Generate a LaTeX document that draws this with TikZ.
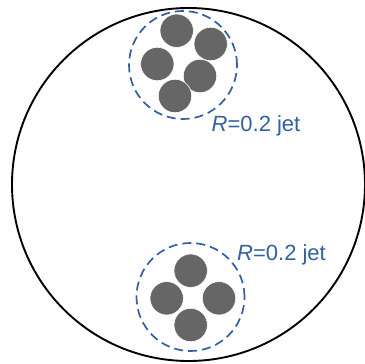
\documentclass[tikz,border=0pt]{standalone}
\usepackage{fontspec}
\setmainfont{Liberation Sans}
\definecolor{jetblue}{RGB}{50,96,164}
\definecolor{blobgray}{RGB}{102,102,102}
\tikzset{
  event/.style={circle, draw=black, line width=1.9pt, minimum size=353pt, inner sep=0pt},
  jetcone/.style={circle, draw=jetblue, line width=1.7pt, dash pattern=on 9pt off 5pt, minimum size=108pt, inner sep=0pt},
  blob/.style={circle, fill=blobgray, draw=white, line width=0.6pt, minimum size=33.4pt, inner sep=0pt},
  jetlabel/.style={text=jetblue, font=\fontsize{22}{26}\selectfont, inner sep=0pt, anchor=base}
}
\begin{document}
\begin{tikzpicture}[x=1pt,y=-1pt]
\useasboundingbox (0,0) rectangle (365,364);
\clip (0,0) rectangle (365,364);
\node[event] (ev) at (188.5,184.5) {};
% top jet
\node[jetcone] (jA) at (183,65) {};
\node[blob] (a1) at (176.7,30.7) {};
\node[blob] (a2) at (210.7,44) {};
\node[blob] (a3) at (157.3,64) {};
\node[blob] (a4) at (200,76) {};
\node[blob] (a5) at (175,96) {};
\node[jetlabel] (lA) at (256,131) {\textit{R}=0.2 jet};
% bottom jet
\node[jetcone] (jB) at (190.5,297) {};
\node[blob] (b1) at (190.7,270.7) {};
\node[blob] (b2) at (166.7,298.3) {};
\node[blob] (b3) at (219,298.3) {};
\node[blob] (b4) at (190.7,325) {};
\node[jetlabel] (lB) at (281.5,260) {\textit{R}=0.2 jet};
\end{tikzpicture}
\end{document}
